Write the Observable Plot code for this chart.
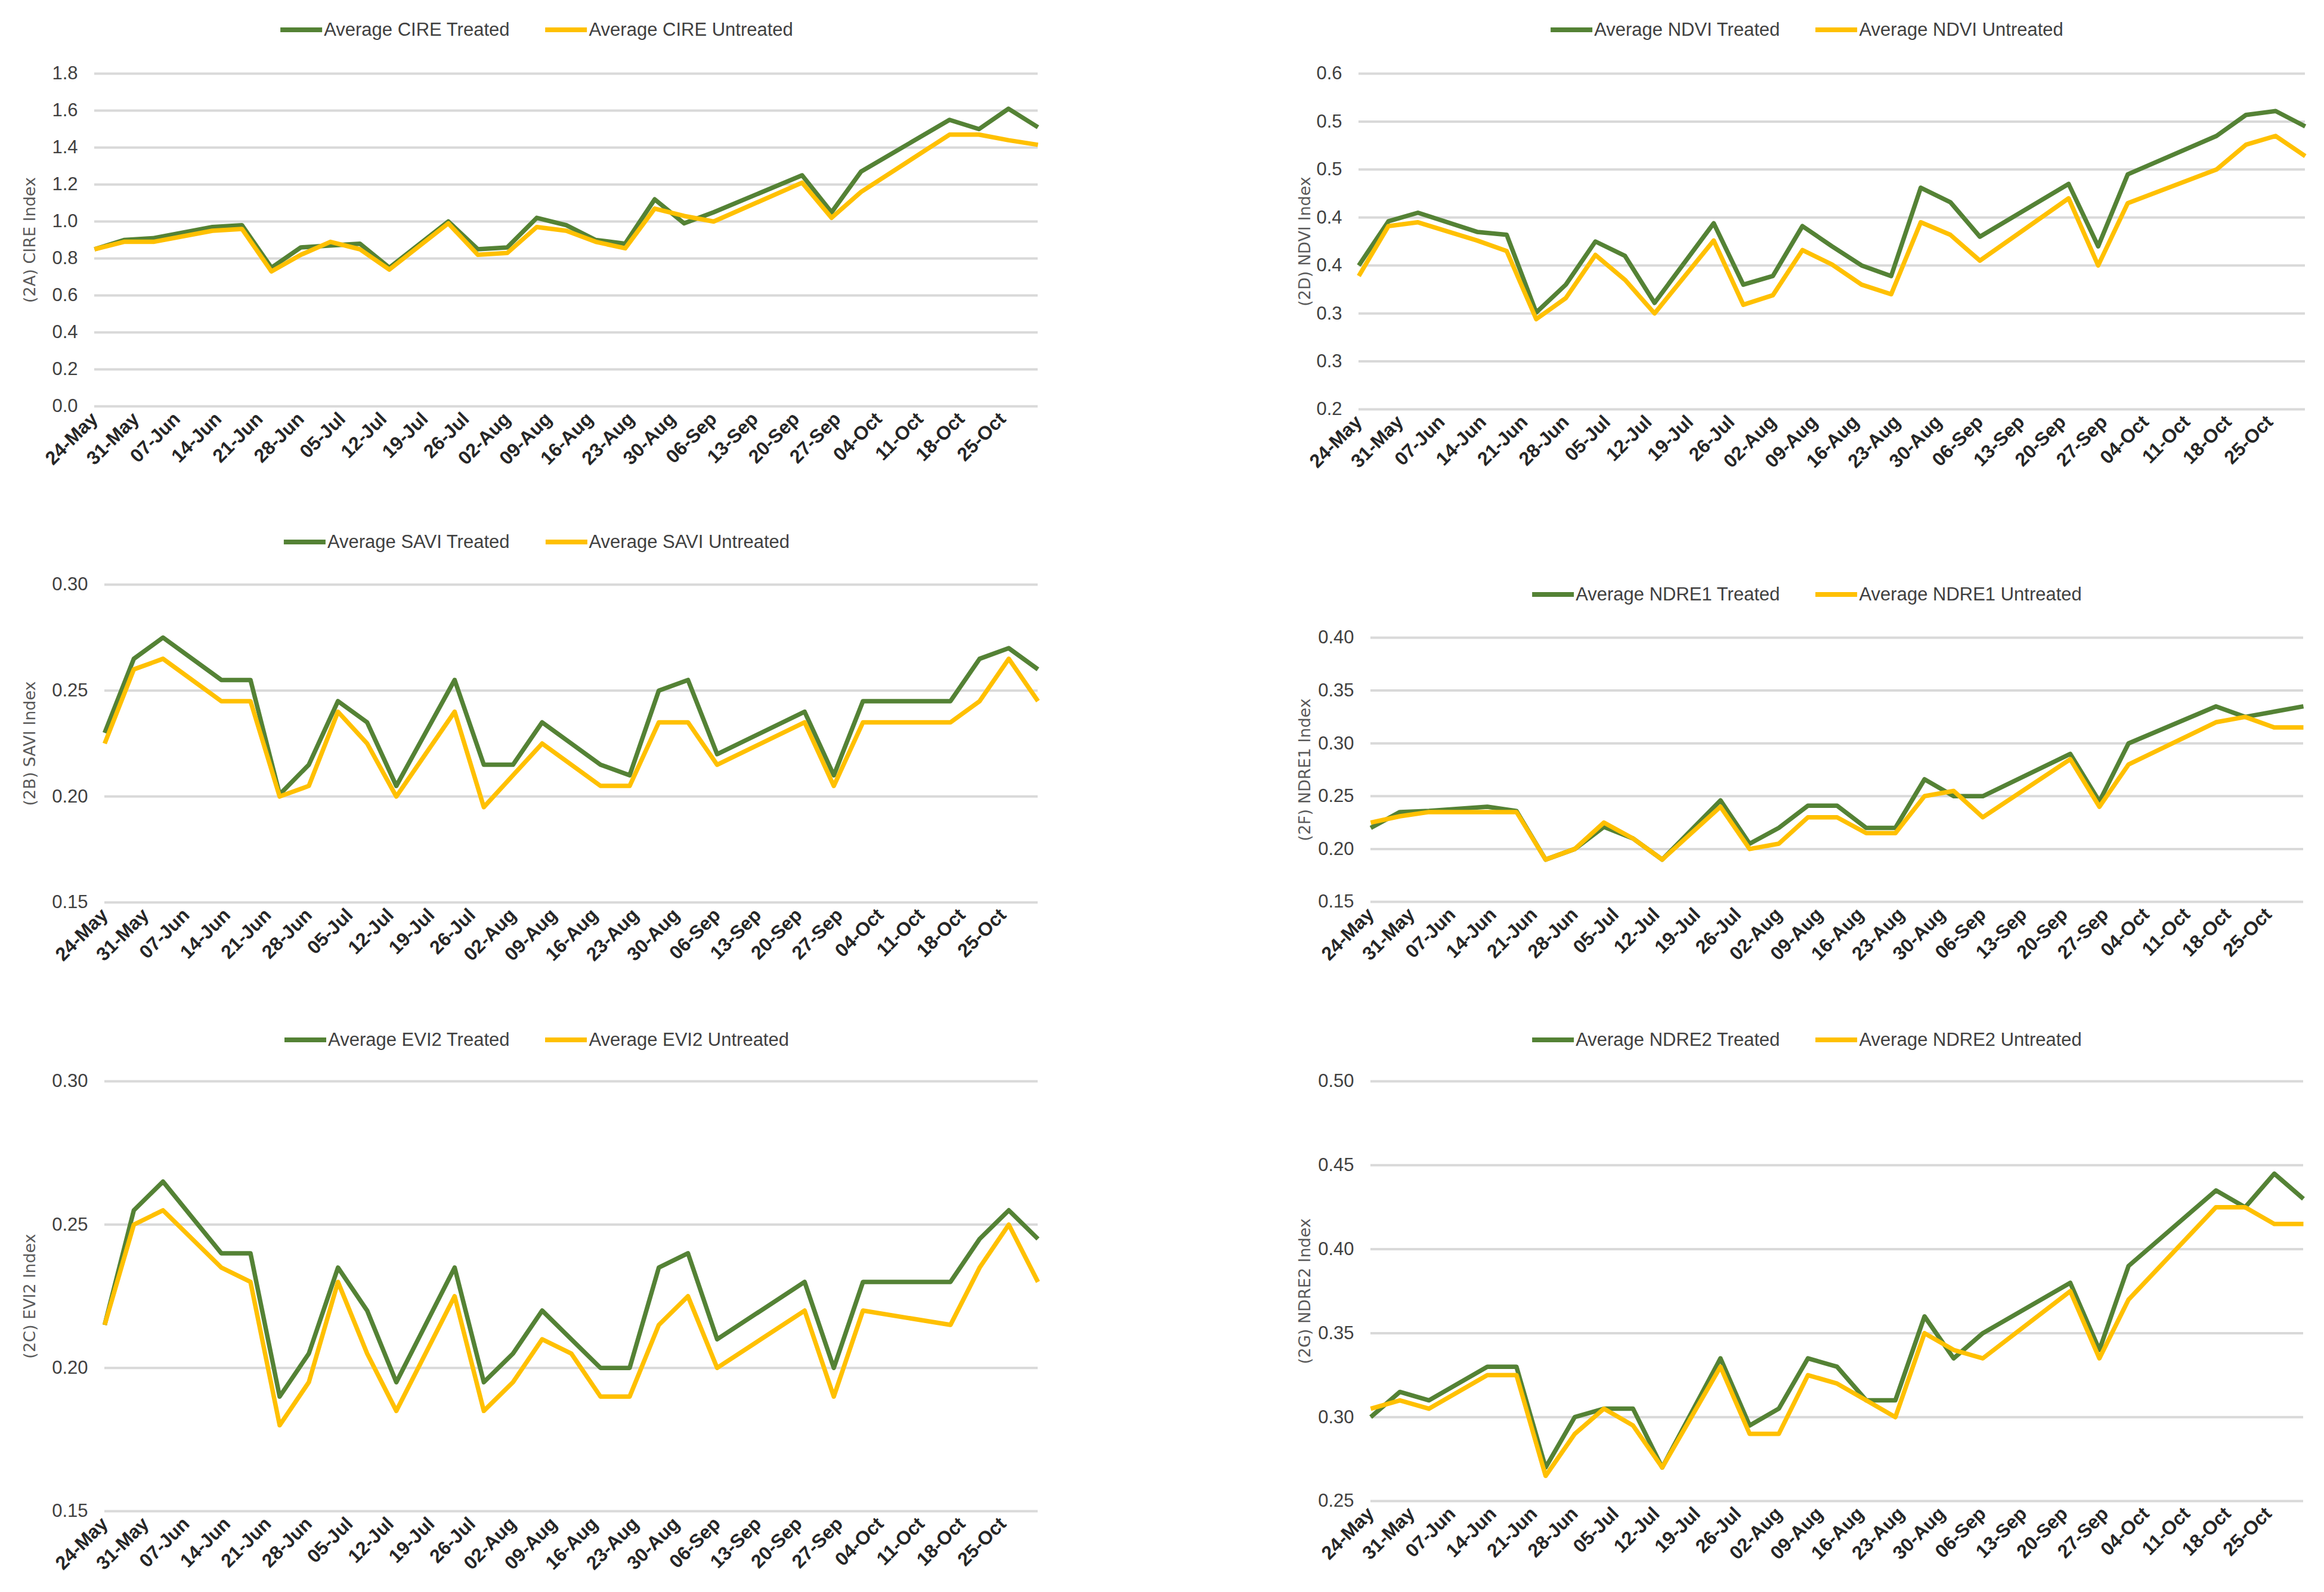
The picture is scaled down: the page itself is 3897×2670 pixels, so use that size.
<!DOCTYPE html>
<html><head><meta charset="utf-8">
<script src="https://cdn.jsdelivr.net/npm/d3@7"></script>
<script src="https://cdn.jsdelivr.net/npm/@observablehq/plot@0.6"></script>
<style>
body{margin:0;background:#fff;}
#root{position:relative;width:3897px;height:2670px;background:#fff;overflow:hidden;}
.panel{position:absolute;}
.legend{position:absolute;display:flex;align-items:center;transform:translate(-50%,-50%);white-space:nowrap;font-family:"Liberation Sans",Arial,sans-serif;font-size:31px;color:#404040;}
.legend .item{display:flex;align-items:center;margin:0 30px;}
.legend .sw{width:70px;height:8px;margin-right:3px;}
</style></head><body><div id="root"></div>
<script>
// ---- data ----
const dates = ["24-May","29-May","03-Jun","13-Jun","18-Jun","23-Jun","28-Jun","03-Jul","08-Jul","13-Jul","23-Jul","28-Jul","02-Aug","07-Aug","12-Aug","17-Aug","22-Aug","27-Aug","01-Sep","06-Sep","21-Sep","26-Sep","01-Oct","16-Oct","21-Oct","26-Oct","31-Oct"];
const xTickLabels = ["24-May","31-May","07-Jun","14-Jun","21-Jun","28-Jun","05-Jul","12-Jul","19-Jul","26-Jul","02-Aug","09-Aug","16-Aug","23-Aug","30-Aug","06-Sep","13-Sep","20-Sep","27-Sep","04-Oct","11-Oct","18-Oct","25-Oct"];

const cireTreated   = [0.85,0.90,0.91,0.97,0.98,0.75,0.86,0.87,0.88,0.75,1.00,0.85,0.86,1.02,0.98,0.90,0.88,1.12,0.99,1.05,1.25,1.05,1.27,1.55,1.50,1.61,1.51];
const cireUntreated = [0.85,0.89,0.89,0.95,0.96,0.73,0.82,0.89,0.85,0.74,0.99,0.82,0.83,0.97,0.95,0.89,0.855,1.07,1.03,1.00,1.21,1.02,1.16,1.47,1.47,1.44,1.415];
const cireTicks = [0,0.2,0.4,0.6,0.8,1.0,1.2,1.4,1.6,1.8];
const cireTickLabels = ["0.0","0.2","0.4","0.6","0.8","1.0","1.2","1.4","1.6","1.8"];

const ndviTreated   = [0.35,0.396,0.405,0.385,0.382,0.301,0.33,0.375,0.36,0.311,0.394,0.33,0.339,0.391,0.37,0.35,0.339,0.431,0.416,0.38,0.435,0.37,0.445,0.485,0.507,0.511,0.495];
const ndviUntreated = [0.339,0.391,0.395,0.376,0.365,0.294,0.316,0.361,0.335,0.30,0.376,0.309,0.319,0.366,0.351,0.33,0.32,0.395,0.382,0.355,0.42,0.35,0.415,0.45,0.476,0.485,0.464];
const ndviTicks = [0.2,0.25,0.3,0.35,0.4,0.45,0.5,0.55];
const ndviTickLabels = ["0.2","0.3","0.3","0.4","0.4","0.5","0.5","0.6"];

const saviTreated   = [0.23,0.265,0.275,0.255,0.255,0.201,0.215,0.245,0.235,0.205,0.255,0.215,0.215,0.235,0.225,0.215,0.21,0.25,0.255,0.22,0.24,0.21,0.245,0.245,0.265,0.27,0.26];
const saviUntreated = [0.225,0.26,0.265,0.245,0.245,0.20,0.205,0.24,0.225,0.20,0.24,0.195,0.21,0.225,0.215,0.205,0.205,0.235,0.235,0.215,0.235,0.205,0.235,0.235,0.245,0.265,0.245];
const saviTicks = [0.15,0.20,0.25,0.30];
const saviTickLabels = ["0.15","0.20","0.25","0.30"];

const ndre1Treated   = [0.22,0.235,0.236,0.24,0.236,0.19,0.20,0.221,0.21,0.19,0.246,0.205,0.22,0.241,0.241,0.22,0.22,0.266,0.25,0.25,0.29,0.245,0.30,0.335,0.325,0.33,0.335];
const ndre1Untreated = [0.225,0.231,0.235,0.235,0.235,0.19,0.20,0.225,0.21,0.19,0.24,0.20,0.205,0.23,0.23,0.215,0.215,0.25,0.255,0.23,0.285,0.24,0.28,0.32,0.325,0.315,0.315];
const ndre1Ticks = [0.15,0.20,0.25,0.30,0.35,0.40];
const ndre1TickLabels = ["0.15","0.20","0.25","0.30","0.35","0.40"];

const evi2Treated   = [0.215,0.255,0.265,0.24,0.24,0.19,0.205,0.235,0.22,0.195,0.235,0.195,0.205,0.22,0.21,0.20,0.20,0.235,0.24,0.21,0.23,0.20,0.23,0.23,0.245,0.255,0.245];
const evi2Untreated = [0.215,0.25,0.255,0.235,0.23,0.18,0.195,0.23,0.205,0.185,0.225,0.185,0.195,0.21,0.205,0.19,0.19,0.215,0.225,0.20,0.22,0.19,0.22,0.215,0.235,0.25,0.23];
const evi2Ticks = [0.15,0.20,0.25,0.30];
const evi2TickLabels = ["0.15","0.20","0.25","0.30"];

const ndre2Treated   = [0.30,0.315,0.31,0.33,0.33,0.27,0.30,0.305,0.305,0.27,0.335,0.295,0.305,0.335,0.33,0.31,0.31,0.36,0.335,0.35,0.38,0.34,0.39,0.435,0.425,0.445,0.43];
const ndre2Untreated = [0.305,0.31,0.305,0.325,0.325,0.265,0.29,0.305,0.295,0.27,0.33,0.29,0.29,0.325,0.32,0.31,0.30,0.35,0.34,0.335,0.375,0.335,0.37,0.425,0.425,0.415,0.415];
const ndre2Ticks = [0.25,0.30,0.35,0.40,0.45,0.50];
const ndre2TickLabels = ["0.25","0.30","0.35","0.40","0.45","0.50"];

// ---- rendering ----
const YEAR = "2021";
const parse = d3.utcParse("%d-%b-%Y");
const dateVals = dates.map(s => parse(s + "-" + YEAR));
const xTicks = xTickLabels.map(s => parse(s + "-" + YEAR));
const xLabelMap = new Map(xTicks.map((d, i) => [+d, xTickLabels[i]]));
const GREEN = "#548235", YELLOW = "#FFC000";

const panels = [
  {name:"CIRE", title:"(2A) CIRE Index", t:cireTreated, u:cireUntreated, ticks:cireTicks, labels:cireTickLabels,
   left:0, top:90, width:1800, height:740, mL:158, mR:60, mT:33, mB:149, titleDx:-108, legX:900, legY:50},
  {name:"NDVI", title:"(2D) NDVI Index", t:ndviTreated, u:ndviUntreated, ticks:ndviTicks, labels:ndviTickLabels,
   left:2100, top:90, width:1797, height:740, mL:178, mR:32, mT:33, mB:144, titleDx:-90, legX:3030, legY:50},
  {name:"SAVI", title:"(2B) SAVI Index", t:saviTreated, u:saviUntreated, ticks:saviTicks, labels:saviTickLabels,
   left:0, top:950, width:1800, height:730, mL:175, mR:60, mT:30, mB:167, titleDx:-125, legX:900, legY:909},
  {name:"NDRE1", title:"(2F) NDRE1 Index", t:ndre1Treated, u:ndre1Untreated, ticks:ndre1Ticks, labels:ndre1TickLabels,
   left:2100, top:1040, width:1797, height:640, mL:198, mR:35, mT:29, mB:168, titleDx:-110, legX:3030, legY:997},
  {name:"EVI2", title:"(2C) EVI2 Index", t:evi2Treated, u:evi2Untreated, ticks:evi2Ticks, labels:evi2TickLabels,
   left:0, top:1780, width:1800, height:890, mL:175, mR:60, mT:33, mB:136, titleDx:-125, legX:900, legY:1744},
  {name:"NDRE2", title:"(2G) NDRE2 Index", t:ndre2Treated, u:ndre2Untreated, ticks:ndre2Ticks, labels:ndre2TickLabels,
   left:2100, top:1780, width:1797, height:890, mL:198, mR:35, mT:33, mB:153, titleDx:-110, legX:3030, legY:1744}
];

const root = document.getElementById("root");

for (const p of panels) {
  const rowsT = dateVals.map((d, i) => ({date: d, value: p.t[i]}));
  const rowsU = dateVals.map((d, i) => ({date: d, value: p.u[i]}));
  const chart = Plot.plot({
    width: p.width, height: p.height,
    marginLeft: p.mL, marginRight: p.mR, marginTop: p.mT, marginBottom: p.mB,
    style: {fontFamily: "'Liberation Sans',Arial,sans-serif", fontSize: "32px", color: "#404040", background: "transparent"},
    x: {type: "utc", domain: [dateVals[0], dateVals[dateVals.length - 1]]},
    y: {domain: [p.ticks[0], p.ticks[p.ticks.length - 1]]},
    marks: [
      Plot.gridY(p.ticks, {stroke: "#d9d9d9", strokeWidth: 4, strokeOpacity: 1}),
      Plot.axisY({ticks: p.ticks, tickSize: 0, tickPadding: 28, label: null,
        tickFormat: d => p.labels[p.ticks.indexOf(d)], fontSize: 31, fill: "#404040"}),
      Plot.axisX({ticks: xTicks, tickSize: 0, tickPadding: 16, tickRotate: -45, label: null,
        tickFormat: d => xLabelMap.get(+d), fontSize: 32, fontWeight: "bold", fill: "#262626"}),
      Plot.line(rowsT, {x: "date", y: "value", stroke: GREEN, strokeWidth: 7.5, strokeLinejoin: "round", strokeLinecap: "butt"}),
      Plot.line(rowsU, {x: "date", y: "value", stroke: YELLOW, strokeWidth: 7.5, strokeLinejoin: "round", strokeLinecap: "butt"}),
      Plot.text([p.title], {text: d => d, frameAnchor: "left", rotate: -90, dx: p.titleDx,
        fontSize: 27, fontFamily: "DejaVu Sans", fill: "#595959", textAnchor: "middle"})
    ]
  });
  chart.classList.add("panel");
  chart.style.left = p.left + "px";
  chart.style.top = p.top + "px";
  root.appendChild(chart);

  const leg = document.createElement("div");
  leg.className = "legend";
  leg.style.left = p.legX + "px";
  leg.style.top = p.legY + "px";
  leg.innerHTML =
    `<div class="item"><div class="sw" style="background:${GREEN}"></div><span>Average ${p.name} Treated</span></div>` +
    `<div class="item"><div class="sw" style="background:${YELLOW}"></div><span>Average ${p.name} Untreated</span></div>`;
  root.appendChild(leg);
}
</script>
</body></html>
